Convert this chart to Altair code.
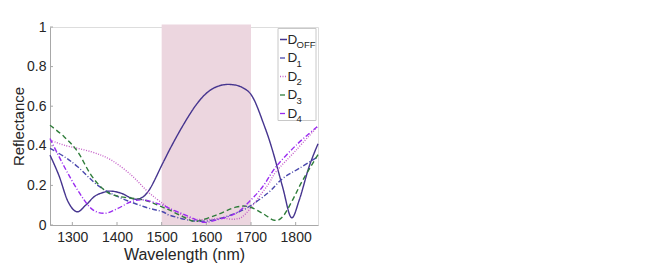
import altair as alt
import pandas as pd

wl_off = [1250, 1270, 1290, 1310, 1330, 1350, 1370, 1387, 1410, 1443, 1470, 1502, 1520, 1547, 1575, 1600, 1625, 1652, 1680, 1704, 1730, 1748, 1771, 1790, 1808, 1830, 1850]
r_off  = [0.353, 0.25, 0.12, 0.067, 0.10, 0.145, 0.165, 0.171, 0.16, 0.13, 0.17, 0.31, 0.39, 0.50, 0.60, 0.665, 0.70, 0.71, 0.695, 0.645, 0.50, 0.378, 0.19, 0.038, 0.126, 0.294, 0.41]

wl_1 = [1250, 1282, 1312, 1357, 1402, 1461, 1502, 1517, 1562, 1599, 1644, 1689, 1737, 1771, 1808, 1850]
r_1  = [0.387, 0.345, 0.294, 0.20, 0.143, 0.092, 0.067, 0.05, 0.024, 0.02, 0.042, 0.084, 0.16, 0.235, 0.286, 0.345]

wl_2 = [1250, 1282, 1342, 1387, 1432, 1469, 1502, 1517, 1562, 1599, 1633, 1666, 1689, 1737, 1756, 1801, 1850]
r_2  = [0.43, 0.403, 0.37, 0.328, 0.252, 0.168, 0.109, 0.084, 0.036, 0.027, 0.034, 0.03, 0.059, 0.20, 0.269, 0.378, 0.50]

wl_3 = [1250, 1282, 1312, 1342, 1372, 1402, 1461, 1502, 1517, 1555, 1577, 1622, 1666, 1696, 1726, 1752, 1771, 1793, 1816, 1850]
r_3  = [0.504, 0.445, 0.37, 0.252, 0.176, 0.145, 0.126, 0.09, 0.076, 0.034, 0.019, 0.05, 0.09, 0.092, 0.059, 0.024, 0.042, 0.126, 0.227, 0.355]

wl_4 = [1250, 1282, 1312, 1342, 1372, 1402, 1432, 1461, 1502, 1517, 1562, 1592, 1622, 1666, 1696, 1726, 1756, 1801, 1850]
r_4  = [0.437, 0.294, 0.176, 0.084, 0.059, 0.084, 0.118, 0.126, 0.10, 0.084, 0.042, 0.014, 0.025, 0.059, 0.118, 0.193, 0.294, 0.403, 0.50]

x_ticks = [1300, 1400, 1500, 1600, 1700, 1800]
y_ticks = [0, 0.2, 0.4, 0.6, 0.8, 1]

series_names = ["DOFF", "D1", "D2", "D3", "D4"]
series_main = ["D", "D", "D", "D", "D"]
series_sub = ["OFF", "1", "2", "3", "4"]
colors = ["#46358f", "#4a48ad", "#c560c8", "#2f7d3a", "#9a2cf0"]
dashes = [[1, 0], [5, 2, 1, 2], [1, 1.5], [5, 3], [5, 2, 1, 2]]

band_x = [1500]
band_x2 = [1700]

rows = []
for name, wl, rr in zip(series_names, [wl_off, wl_1, wl_2, wl_3, wl_4], [r_off, r_1, r_2, r_3, r_4]):
    for i, (w, r) in enumerate(zip(wl, rr)):
        rows.append({"series": name, "wl": w, "r": r, "order": i})
df = pd.DataFrame(rows)

FONT = "Liberation Sans"
TXT = "#262626"
GRAY = "#a8a8a8"

xscale = alt.Scale(domain=[1250, 1850], nice=False)
yscale = alt.Scale(domain=[0, 1], nice=False)

xaxis = alt.Axis(title="Wavelength (nm)", values=x_ticks, format="d", grid=False, ticks=False,
                 domainColor=GRAY, labelFontSize=14, titleFontSize=16, labelColor=TXT, titleColor=TXT,
                 labelFont=FONT, titleFont=FONT, titleFontWeight="normal", labelPadding=5, titlePadding=2,
                 labelOverlap=False)
yaxis = alt.Axis(title="Reflectance", values=y_ticks, labelExpr="format(datum.value, '~g')", grid=False,
                 ticks=False, domainColor=GRAY, labelFontSize=14, titleFontSize=15, labelColor=TXT,
                 titleColor=TXT, labelFont=FONT, titleFont=FONT, titleFontWeight="normal", labelPadding=4,
                 titlePadding=0, labelOverlap=False)

band = alt.Chart(pd.DataFrame({"x": band_x, "x2": band_x2, "y": [0], "y2": [1.012]})).mark_rect(
    color="#ecd6df"
).encode(
    x=alt.X("x:Q", scale=xscale, axis=xaxis),
    x2="x2:Q",
    y=alt.Y("y:Q", scale=yscale, axis=yaxis),
    y2="y2:Q",
)

xt = alt.Chart(pd.DataFrame({"t": x_ticks})).mark_rule(color=GRAY, strokeWidth=1).encode(
    x=alt.X("t:Q", scale=xscale, axis=xaxis), y=alt.value(198), y2=alt.value(195)
)
yt = alt.Chart(pd.DataFrame({"t": y_ticks})).mark_rule(color=GRAY, strokeWidth=1).encode(
    y=alt.Y("t:Q", scale=yscale, axis=yaxis), x=alt.value(0), x2=alt.value(3)
)

lines = alt.Chart(df).mark_line(interpolate="cardinal", strokeWidth=1.4).encode(
    x=alt.X("wl:Q", scale=xscale, axis=xaxis),
    y=alt.Y("r:Q", scale=yscale, axis=yaxis),
    color=alt.Color("series:N", scale=alt.Scale(domain=series_names, range=colors), legend=None),
    strokeDash=alt.StrokeDash("series:N", scale=alt.Scale(domain=series_names, range=dashes), legend=None),
    order="order:Q",
)

# manual legend (pixel positions)
leg = pd.DataFrame({"series": series_names, "main": series_main, "sub": series_sub, "row": list(range(5))})
legbase = alt.Chart(leg).transform_calculate(py="12.5 + 18.5 * datum.row")

legbox = alt.Chart(pd.DataFrame({"a": [0]})).mark_rect(
    fill="white", stroke="#c8c8c8", strokeWidth=1
).encode(x=alt.value(228), x2=alt.value(266), y=alt.value(1.5), y2=alt.value(93.5))

legline = legbase.mark_rule(strokeWidth=1.3).encode(
    x=alt.value(230), x2=alt.value(237),
    y=alt.Y("py:Q", scale=None),
    color=alt.Color("series:N", scale=alt.Scale(domain=series_names, range=colors), legend=None),
    strokeDash=alt.StrokeDash("series:N", scale=alt.Scale(domain=series_names, range=[[1, 0], [3, 1, 1, 1], [1, 1], [3, 2], [3, 1, 1, 1]]), legend=None),
)

legmain = legbase.mark_text(align="left", baseline="middle", fontSize=13.5, font=FONT, color=TXT).encode(
    x=alt.value(237.5), y=alt.Y("py:Q", scale=None), text="main:N"
)
legsub = legbase.transform_calculate(py2="datum.py + 5.5").mark_text(
    align="left", baseline="middle", fontSize=9.5, font=FONT, color=TXT
).encode(x=alt.value(246.5), y=alt.Y("py2:Q", scale=None), text="sub:N")

chart = alt.layer(band, xt, yt, lines, legbox, legline, legmain, legsub).properties(
    width=268, height=198,
    autosize=alt.AutoSizeParams(type="none"),
    padding={"left": 42, "top": 19, "right": 10, "bottom": 40},
).configure_view(stroke=None).configure(background="white")

chart.save("out.html", embed_options={"renderer": "svg", "actions": False})
